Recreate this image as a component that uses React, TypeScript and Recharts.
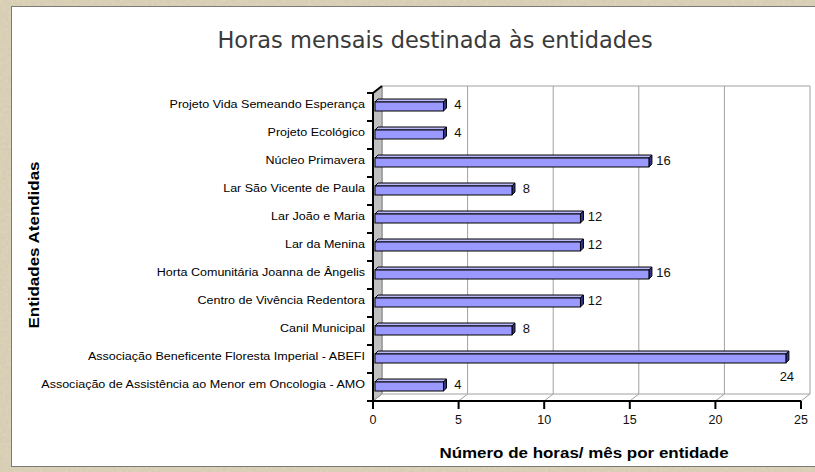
import React from 'react';
import { BarChart, Bar, XAxis, YAxis, CartesianGrid, ReferenceArea, LabelList } from 'recharts';

const entidades = [
  'Projeto Vida Semeando Esperança',
  'Projeto Ecológico',
  'Núcleo Primavera',
  'Lar São Vicente de Paula',
  'Lar João e Maria',
  'Lar da Menina',
  'Horta Comunitária Joanna de Ângelis',
  'Centro de Vivência Redentora',
  'Canil Municipal',
  'Associação Beneficente Floresta Imperial - ABEFI',
  'Associação de Assistência ao Menor em Oncologia - AMO',
];
const horas = [4, 4, 16, 8, 12, 12, 16, 12, 8, 24, 4];
const xTicks = [0, 5, 10, 15, 20, 25];

const data = entidades.map((name, i) => ({ name, horas: horas[i] }));

const W = 815;
const H = 472;
const MARGIN = { top: 93, right: 14, bottom: 41, left: 13 };
const Y_AXIS_W = 360;
const X_AXIS_H = 30;
const PLOT_LEFT = MARGIN.left + Y_AXIS_W;
const PLOT_RIGHT = W - MARGIN.right;
const PLOT_H = H - MARGIN.top - MARGIN.bottom - X_AXIS_H;
const X_MAX = xTicks[xTicks.length - 1];

// 3D depth of the walls and of the bars
const DX = 9;
const DY = -7;
const BX = 2;
const BY = -1;
const BD = 3;

const FONT = '"Liberation Sans", Arial, sans-serif';

function Bar3D(props: any) {
  const { x, y, width, height } = props;
  const fx = x + BX;
  const fy = y + BY;
  return (
    <g stroke="#000" strokeWidth={1}>
      <polygon
        points={`${fx},${fy} ${fx + BD},${fy - BD} ${fx + width + BD},${fy - BD} ${fx + width},${fy}`}
        fill="#b8b8ff"
      />
      <polygon
        points={`${fx + width},${fy} ${fx + width + BD},${fy - BD} ${fx + width + BD},${fy + height - BD} ${fx + width},${fy + height}`}
        fill="#33338f"
      />
      <rect x={fx} y={fy} width={width} height={height} fill="#9999ff" />
    </g>
  );
}

function ValueLabel(props: any) {
  const vb = props.viewBox ?? props;
  const { x, y, width, height } = vb;
  const end = x + width + BX;
  const overflow = end + 22 > PLOT_RIGHT;
  const lx = overflow ? end + 1 : end + 14.5;
  const ly = overflow ? y + BY + height + 13 : y + BY + height / 2 - 2;
  return (
    <text
      x={lx}
      y={ly}
      textAnchor="middle"
      dominantBaseline="central"
      fontFamily={FONT}
      fontSize={13}
      fill="#111"
    >
      {props.value}
    </text>
  );
}

function CatTick(props: any) {
  const { y, payload, index } = props;
  const step = PLOT_H / entidades.length;
  return (
    <g>
      <line x1={PLOT_LEFT - 6} x2={PLOT_LEFT} y1={y + step / 2} y2={y + step / 2} stroke="#000" strokeWidth={2} />
      {index === 0 && (
        <line x1={PLOT_LEFT - 6} x2={PLOT_LEFT} y1={y - step / 2} y2={y - step / 2} stroke="#000" strokeWidth={2} />
      )}
      <text
        transform={`translate(${PLOT_LEFT - 8},${y - 3}) scale(1.14,1)`}
        textAnchor="end"
        dominantBaseline="central"
        fontFamily={FONT}
        fontSize={11}
        fill="#000"
      >
        {payload.value}
      </text>
    </g>
  );
}

function Frame3D(props: any) {
  const { x, y, width, height } = props;
  const bottom = y + height;
  return (
    <g>
      <polygon
        points={`${x},${y} ${x + DX},${y + DY} ${x + DX},${bottom + DY} ${x},${bottom}`}
        fill="#c0c0c0"
        stroke="#808080"
        strokeWidth={1}
      />
      <line x1={x + DX} x2={x + width + DX} y1={y + DY} y2={y + DY} stroke="#a0a0a0" />
      <line x1={x + DX} x2={x + width + DX} y1={bottom + DY} y2={bottom + DY} stroke="#a0a0a0" />
      {xTicks.map((t) => {
        const px = x + (t / X_MAX) * width;
        return <line key={t} x1={px} y1={bottom} x2={px + DX} y2={bottom + DY} stroke="#a0a0a0" />;
      })}
      <line x1={x} y1={y} x2={x + DX} y2={y + DY} stroke="#000" strokeWidth={2} />
    </g>
  );
}

const backGrid = ({ xAxis, offset }: any) => {
  const s = xAxis && xAxis.scale;
  return xTicks.map((t) =>
    (typeof s === 'function' ? s(t) : offset.left + (t / X_MAX) * offset.width) + DX,
  );
};

const axisTitle: React.CSSProperties = {
  position: 'absolute',
  whiteSpace: 'nowrap',
  fontFamily: FONT,
  fontWeight: 'bold',
  fontSize: 15,
  color: '#000',
};

export default function App() {
  return (
    <div style={{ position: 'fixed', left: 0, top: 0, width: W, height: H, background: '#d8ceb2', overflow: 'hidden' }}>
      <svg width={W} height={H} style={{ position: 'absolute', left: 0, top: 0 }}>
        <filter id="paper">
          <feTurbulence type="fractalNoise" baseFrequency="0.35" numOctaves={3} seed={4} />
          <feColorMatrix
            type="matrix"
            values="0 0 0 0 0.55  0 0 0 0 0.5  0 0 0 0 0.4  0 0 0 0.55 -0.12"
          />
        </filter>
        <rect width={W} height={H} fill="#dcd3b8" />
        <rect width={W} height={H} filter="url(#paper)" />
      </svg>
      <div
        style={{
          position: 'absolute',
          left: 11,
          top: 6,
          width: 820,
          height: 459,
          background: '#fff',
          border: '1px solid #7a7a7a',
        }}
      />
      <div style={{ position: 'absolute', left: 0, top: 0 }}>
        <BarChart width={W} height={H} data={data} layout="vertical" margin={MARGIN} barSize={9}>
          <CartesianGrid
            x={PLOT_LEFT + DX}
            y={MARGIN.top + DY}
            width={PLOT_RIGHT - PLOT_LEFT}
            height={PLOT_H}
            horizontal={false}
            stroke="#a0a0a0"
            verticalCoordinatesGenerator={backGrid}
          />
          <ReferenceArea x1={0} x2={X_MAX} shape={<Frame3D />} fillOpacity={1} />
          <XAxis
            type="number"
            domain={[0, X_MAX]}
            ticks={xTicks}
            height={X_AXIS_H}
            axisLine={{ stroke: '#000', strokeWidth: 2 }}
            tickLine={{ stroke: '#000', strokeWidth: 2 }}
            tickSize={8}
            tickMargin={6}
            tick={{ fontFamily: FONT, fontSize: 12.5, fill: '#111' }}
          />
          <YAxis
            type="category"
            dataKey="name"
            width={Y_AXIS_W}
            axisLine={{ stroke: '#000', strokeWidth: 2 }}
            tickLine={false}
            tick={<CatTick />}
            interval={0}
          />
          <Bar dataKey="horas" shape={<Bar3D />} isAnimationActive={false}>
            <LabelList dataKey="horas" content={<ValueLabel />} />
          </Bar>
        </BarChart>
      </div>
      <div
        style={{
          position: 'absolute',
          left: 435,
          top: 40,
          transform: 'translate(-50%, -50%)',
          whiteSpace: 'nowrap',
          fontFamily: '"DejaVu Sans", sans-serif',
          fontSize: 22.5,
          color: '#3a3a3a',
        }}
      >
        Horas mensais destinada às entidades
      </div>
      <div style={{ ...axisTitle, left: 33, top: 245, transform: 'translate(-50%, -50%) rotate(-90deg) scaleX(1.13)' }}>
        Entidades Atendidas
      </div>
      <div style={{ ...axisTitle, left: 584, top: 452, transform: 'translate(-50%, -50%) scaleX(1.13)' }}>
        Número de horas/ mês por entidade
      </div>
    </div>
  );
}
